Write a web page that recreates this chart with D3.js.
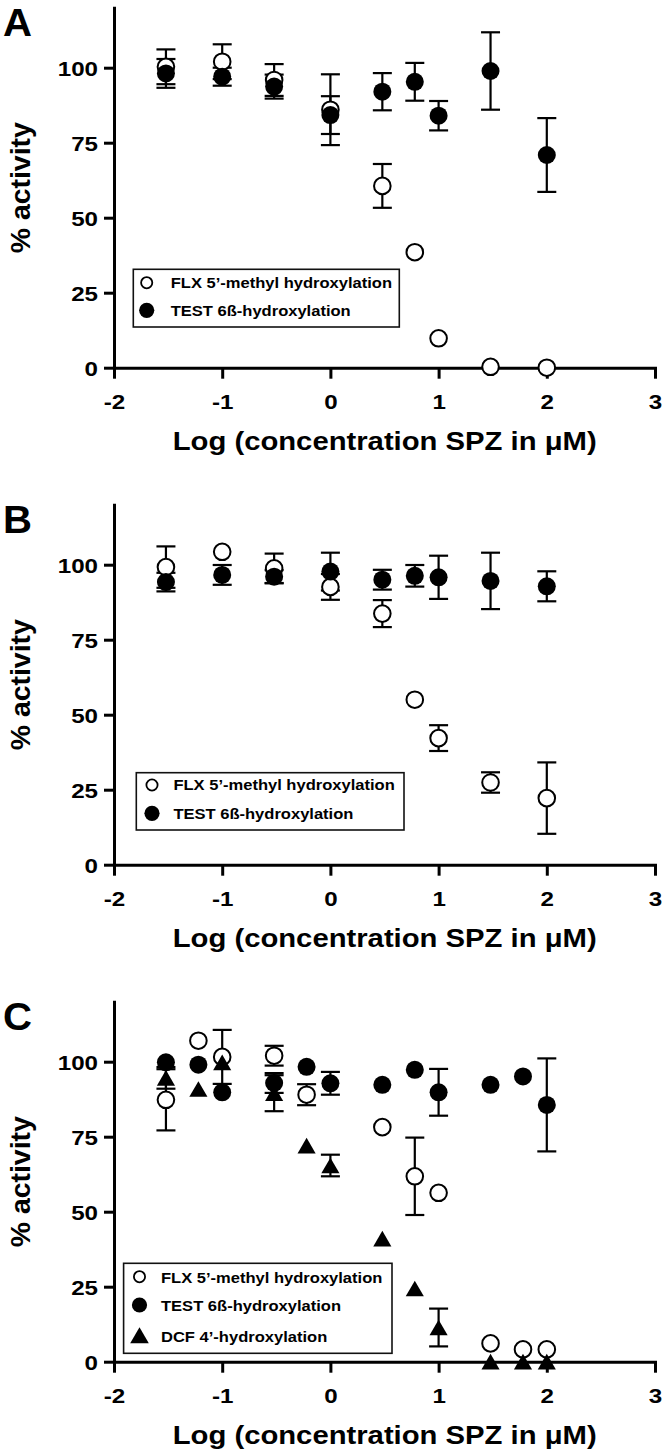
<!DOCTYPE html>
<html>
<head>
<meta charset="utf-8">
<script src="https://cdn.jsdelivr.net/npm/d3@7"></script>
<style>
  body { margin: 0; background: #fff; }
  svg { display: block; }
  text { font-family: "Liberation Sans", Arial, Helvetica, sans-serif; font-weight: bold; fill: #000; }
</style>
</head>
<body>
<svg id="chart" width="666" height="1453"></svg>
<script>
// ---------------- data ----------------
const xTicks = [-2, -1, 0, 1, 2, 3];
const xTickLabels = ["-2", "-1", "0", "1", "2", "3"];
const yTicks = [0, 25, 50, 75, 100];
const yTickLabels = ["0", "25", "50", "75", "100"];
const xTitle = "Log (concentration SPZ in \u03BCM)";
const yTitle = "% activity";
const panelLetters = ["A", "B", "C"];
const seriesNames = ["FLX 5\u2019-methyl hydroxylation", "TEST 6\u00DF-hydroxylation", "DCF 4\u2019-hydroxylation"];

// Panel A
const concA    = [-1.52, -1, -0.52, 0, 0.48, 0.78, 1, 1.48, 2];
const flxA     = [100.3, 102, 95.9, 86, 60.6, 38.5, 9.8, 0.3, 0];
const flxErrA  = [5.8, 5.8, 5.3, 11.8, 7.3, 0, 0, 0, 0];
const testA    = [98.1, 97, 93.7, 84.2, 92, 95.3, 84, 98.9, 70.9];
const testErrA = [4.8, 3, 4, 6.3, 6.2, 6.3, 4.9, 12.9, 12.3];

// Panel B
const concB    = [-1.52, -1, -0.52, 0, 0.48, 0.78, 1, 1.48, 2];
const flxB     = [99.2, 104.3, 98.8, 92.6, 83.7, 55, 42.2, 27.4, 22.2];
const flxErrB  = [6.9, 0, 4.9, 4.3, 4.5, 0, 4.3, 3.4, 11.9];
const testB    = [94.2, 96.6, 96, 97.7, 95, 96.3, 95.8, 94.6, 92.8];
const testErrB = [3.1, 3.3, 2.2, 6.3, 3.3, 3.6, 7.2, 9.4, 5];

// Panel C
const concC    = [-1.52, -1.22, -1, -0.52, -0.22, 0, 0.48, 0.78, 1, 1.48, 1.78, 2];
const flxC     = [87.3, 107, 101.6, 102, 89, null, 78.2, 61.8, 56.3, 6.1, 4.1, 4.1];
const flxErrC  = [10.2, 0, 9, 3.3, 3.5, 0, 0, 12.9, 0, 0, 0, 0];
const testC    = [99.8, 99, 89.8, 92.9, 98.3, 92.8, 92.3, 97.3, 89.8, 92.3, 95.1, 85.6];
const testErrC = [0, 0, 0, 3.3, 0, 3.8, 0, 0, 7.8, 0, 0, 15.5];
const dcfC     = [94.6, 90.9, 99.8, 89.5, 72, 65.4, 41, 24.4, 11.4, 0, 0, 0];
const dcfErrC  = [3.6, 0, 0, 6, 0, 3.6, 0, 0, 6.3, 0, 0, 0];

// ---------------- layout ----------------
const svg = d3.select("#chart");
const SX = 1.15; // horizontal glyph widening seen in the reference

function widen(sel, factor) {
  sel.each(function () {
    const w = this.getComputedTextLength();
    d3.select(this).attr("textLength", w * factor).attr("lengthAdjust", "spacingAndGlyphs");
  });
}
function fitTo(sel, width) {
  sel.attr("textLength", width).attr("lengthAdjust", "spacingAndGlyphs");
}

const panels = [
  {
    y0: 367.7, letter: panelLetters[0], conc: concA,
    series: [
      { name: seriesNames[0], v: flxA, e: flxErrA, type: "open" },
      { name: seriesNames[1], v: testA, e: testErrA, type: "filled" }
    ],
    legend: { x0: 133.3, x1: 399.3, top: -98.4, bottom: -40.7, mx: 146.7, tx: 170.7,
              my: [-85, -57.4], ty: [-79.7, -51.7] }
  },
  {
    y0: 864.7, letter: panelLetters[1], conc: concB,
    series: [
      { name: seriesNames[0], v: flxB, e: flxErrB, type: "open" },
      { name: seriesNames[1], v: testB, e: testErrB, type: "filled" }
    ],
    legend: { x0: 136.3, x1: 404, top: -92, bottom: -34.7, mx: 152, tx: 173.4,
              my: [-79.7, -51.4], ty: [-74.5, -46.2] }
  },
  {
    y0: 1361.7, letter: panelLetters[2], conc: concC,
    series: [
      { name: seriesNames[0], v: flxC, e: flxErrC, type: "open" },
      { name: seriesNames[1], v: testC, e: testErrC, type: "filled" },
      { name: seriesNames[2], v: dcfC, e: dcfErrC, type: "triangle" }
    ],
    legend: { x0: 123.6, x1: 392, top: -98.4, bottom: -8.4, mx: 139.5, tx: 161,
              my: [-85, -56.7, -25.7], ty: [-79, -51, -20] }
  }
];

const triSize = 142;
const triPath = d3.symbol(d3.symbolTriangle, triSize)();
const triShift = Math.sqrt(triSize / (Math.sqrt(3) * 3)) / 2; // centre on bounding box

panels.forEach(p => {
  const g = svg.append("g");
  const x = d3.scaleLinear().domain([-2, 3]).range([114, 655]);
  const y = d3.scaleLinear().domain([0, 120]).range([p.y0, p.y0 - 360]);

  // axes
  const gx = g.append("g").attr("transform", `translate(0,${p.y0})`)
    .call(d3.axisBottom(x).tickValues(xTicks)
      .tickFormat(d => xTickLabels[xTicks.indexOf(d)]).tickSize(11).tickSizeOuter(0));
  const gy = g.append("g").attr("transform", `translate(114,0)`)
    .call(d3.axisLeft(y).tickValues(yTicks)
      .tickFormat(d => yTickLabels[yTicks.indexOf(d)]).tickSize(10).tickSizeOuter(0));

  [gx, gy].forEach(a => {
    a.select(".domain").attr("stroke", "#000").attr("stroke-width", 3).attr("stroke-linecap", "square");
    a.selectAll(".tick line").attr("stroke", "#000").attr("stroke-width", 3);
    a.selectAll(".tick text").style("font-size", "21px").attr("fill", "#000");
  });
  gx.selectAll(".tick text").attr("y", 41).attr("dy", null);
  gy.selectAll(".tick text").attr("x", -16).attr("dy", "0.36em");
  gx.selectAll(".tick text").call(widen, SX);
  gy.selectAll(".tick text").call(widen, SX);

  // titles
  g.append("text").attr("x", 384.7).attr("y", p.y0 + 82)
    .attr("text-anchor", "middle").style("font-size", "25px")
    .text(xTitle).call(fitTo, 424);
  g.append("text").attr("transform", `translate(30,${p.y0 - 180}) rotate(-90)`)
    .attr("text-anchor", "middle").style("font-size", "27px")
    .text(yTitle).call(fitTo, 131);
  g.append("text").attr("x", 3).attr("y", p.y0 - 332)
    .style("font-size", "39px").text(p.letter).call(fitTo, 29);

  // data rows
  const rows = s => p.conc.map((c, i) => ({ c, v: s.v[i], e: s.e[i] })).filter(d => d.v != null);

  // error bars
  const eb = g.append("g").attr("stroke", "#000").attr("stroke-width", 2.2).attr("fill", "none");
  p.series.forEach(s => {
    rows(s).filter(d => d.e > 0).forEach(d => {
      const cx = x(d.c), yt = y(d.v + d.e), yb = y(d.v - d.e);
      eb.append("line").attr("x1", cx).attr("x2", cx).attr("y1", yt).attr("y2", yb);
      eb.append("line").attr("x1", cx - 9.5).attr("x2", cx + 9.5).attr("y1", yt).attr("y2", yt);
      eb.append("line").attr("x1", cx - 9.5).attr("x2", cx + 9.5).attr("y1", yb).attr("y2", yb);
    });
  });

  // markers
  p.series.forEach(s => {
    const data = rows(s);
    if (s.type === "open") {
      g.append("g").selectAll("circle").data(data).join("circle")
        .attr("cx", d => x(d.c)).attr("cy", d => y(d.v)).attr("r", 8.3)
        .attr("fill", "#fff").attr("stroke", "#000").attr("stroke-width", 2);
    } else if (s.type === "filled") {
      g.append("g").selectAll("circle").data(data).join("circle")
        .attr("cx", d => x(d.c)).attr("cy", d => y(d.v)).attr("r", 9)
        .attr("fill", "#000");
    } else {
      g.append("g").selectAll("path").data(data).join("path")
        .attr("d", triPath)
        .attr("transform", d => `translate(${x(d.c)},${y(d.v) + triShift})`)
        .attr("fill", "#000");
    }
  });

  // legend
  const L = p.legend;
  const lg = g.append("g");
  lg.append("rect").attr("x", L.x0).attr("y", p.y0 + L.top)
    .attr("width", L.x1 - L.x0).attr("height", L.bottom - L.top)
    .attr("fill", "#fff").attr("stroke", "#111").attr("stroke-width", 1.6);
  p.series.forEach((s, i) => {
    const my = p.y0 + L.my[i];
    if (s.type === "open") {
      lg.append("circle").attr("cx", L.mx).attr("cy", my).attr("r", 5.6)
        .attr("fill", "#fff").attr("stroke", "#000").attr("stroke-width", 1.8);
    } else if (s.type === "filled") {
      lg.append("circle").attr("cx", L.mx).attr("cy", my).attr("r", 7.6).attr("fill", "#000");
    } else {
      lg.append("path").attr("d", d3.symbol(d3.symbolTriangle, 150)())
        .attr("transform", `translate(${L.mx},${my + 2})`).attr("fill", "#000");
    }
    lg.append("text").attr("x", L.tx).attr("y", p.y0 + L.ty[i])
      .style("font-size", "14.5px").text(s.name).call(widen, 1.14);
  });
});
</script>
</body>
</html>
